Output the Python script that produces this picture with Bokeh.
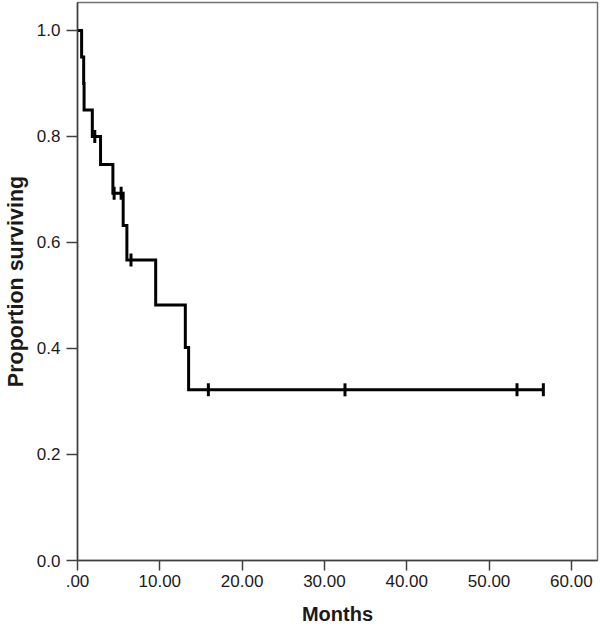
import math
from bokeh.plotting import figure
from bokeh.models import Range1d, FixedTicker
from bokeh.embed import file_html
from bokeh.resources import INLINE

# Kaplan-Meier step points (time in months, proportion surviving)
step_times = [0.0, 0.5, 0.75, 0.8, 1.8, 2.8, 4.3, 5.55, 6.0, 9.5, 13.1, 13.5, 56.6]
step_surv = [1.0, 0.95, 0.90, 0.85, 0.80, 0.747, 0.693, 0.632, 0.567, 0.482, 0.402, 0.322, 0.322]

# Censored observations
censor_times = [2.1, 4.45, 5.3, 6.5, 15.9, 32.5, 53.4, 56.6]
censor_surv = [0.80, 0.693, 0.693, 0.567, 0.322, 0.322, 0.322, 0.322]

x_ticks = [0, 10, 20, 30, 40, 50, 60]
x_tick_labels = [".00", "10.00", "20.00", "30.00", "40.00", "50.00", "60.00"]
y_ticks = [0.0, 0.2, 0.4, 0.6, 0.8, 1.0]
y_tick_labels = ["0.0", "0.2", "0.4", "0.6", "0.8", "1.0"]

FONT = "Liberation Sans"

p = figure(width=600, height=627, output_backend="svg", toolbar_location=None,
           x_range=Range1d(0, 63.18), y_range=Range1d(0, 1.0528),
           min_border_left=77, min_border_right=3, min_border_top=2, min_border_bottom=67)

p.background_fill_color = "white"
p.border_fill_color = "white"
p.outline_line_color = "#707070"
p.outline_line_width = 1.5
p.xgrid.visible = False
p.ygrid.visible = False

p.step(step_times, step_surv, mode="after", line_color="black", line_width=3,
       line_join="miter")
p.scatter(censor_times, censor_surv, marker="dash", angle=math.pi / 2, size=13,
          line_color="black", line_width=3)

for ax in (p.xaxis[0], p.yaxis[0]):
    ax.axis_line_color = "#404040"
    ax.axis_line_width = 1.5
    ax.major_tick_line_color = "#404040"
    ax.major_tick_line_width = 1.5
    ax.major_tick_in = 0
    ax.minor_tick_line_color = None
    ax.major_label_text_font = FONT
    ax.major_label_text_font_size = "17px"
    ax.major_label_text_color = "#1a1a1a"
    ax.axis_label_text_font = FONT
    ax.axis_label_text_font_style = "bold"
    ax.axis_label_text_color = "#1a1a1a"

p.xaxis.ticker = FixedTicker(ticks=x_ticks)
p.xaxis.major_label_overrides = {t: l for t, l in zip(x_ticks, x_tick_labels)}
p.xaxis.major_tick_out = 10
p.xaxis.major_label_standoff = 4
p.xaxis.axis_label = "Months"
p.xaxis.axis_label_text_font_size = "20px"
p.xaxis.axis_label_standoff = 13

p.yaxis.ticker = FixedTicker(ticks=y_ticks)
p.yaxis.major_label_overrides = {t: l for t, l in zip(y_ticks, y_tick_labels)}
p.yaxis.major_tick_out = 11
p.yaxis.major_label_standoff = 6
p.yaxis.axis_label = "Proportion surviving"
p.yaxis.axis_label_text_font_size = "21.5px"
p.yaxis.axis_label_standoff = 6

open("out.html", "w").write(file_html(p, INLINE))
